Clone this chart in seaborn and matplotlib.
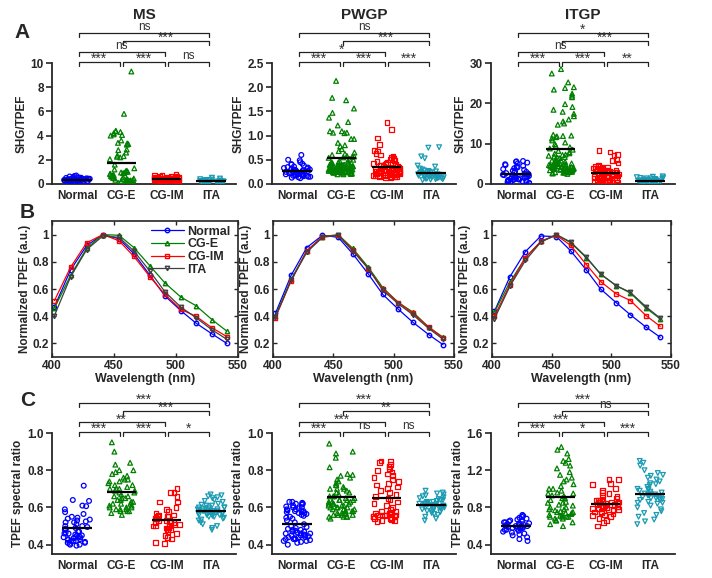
import numpy as np
import pandas as pd
import matplotlib
matplotlib.use('Agg')
import matplotlib.pyplot as plt
import seaborn as sns

np.random.seed(3)

groups = ['Normal', 'CG-E', 'CG-IM', 'ITA']
dot_colors = {'Normal': '#0000ff', 'CG-E': '#008000', 'CG-IM': '#ff0000', 'ITA': '#1b9bb3'}
line_colors = {'Normal': '#0000ff', 'CG-E': '#008000', 'CG-IM': '#ff0000', 'ITA': '#404040'}
dot_markers = {'Normal': 'o', 'CG-E': '^', 'CG-IM': 's', 'ITA': 'v'}

# ---- row A: SHG/TPEF ----
ms_shg_normal = [0.15, 0.18, 0.2, 0.22, 0.23, 0.25, 0.26, 0.27, 0.28, 0.29, 0.3, 0.3, 0.31, 0.32, 0.32,
                 0.33, 0.34, 0.34, 0.35, 0.35, 0.36, 0.36, 0.37, 0.38, 0.38, 0.39, 0.4, 0.4, 0.41, 0.42,
                 0.43, 0.44, 0.45, 0.46, 0.48, 0.5, 0.52, 0.55, 0.58, 0.62, 0.66, 0.7, 0.2, 0.25, 0.3]
ms_shg_cge = [9.3, 5.8, 4.4, 4.35, 4.3, 4.2, 4.1, 4.05, 4.0, 3.6, 3.4, 3.35, 3.3, 3.25, 2.85, 2.8, 2.6,
              2.35, 2.3, 2.25, 2.2, 2.05, 1.6, 1.3, 1.2, 1.1, 1.05, 1.0, 0.95, 0.9, 0.85, 0.8, 0.75, 0.7,
              0.65, 0.6, 0.55, 0.5, 0.45, 0.42, 0.4, 0.38, 0.35, 0.32, 0.3, 0.28, 0.25, 0.22, 0.2, 0.18,
              0.15, 0.12, 0.1, 0.9, 0.7, 0.5, 0.35, 0.25]
ms_shg_cgim = [0.1, 0.15, 0.18, 0.2, 0.22, 0.25, 0.27, 0.28, 0.3, 0.32, 0.33, 0.35, 0.36, 0.38, 0.39,
               0.4, 0.4, 0.41, 0.42, 0.43, 0.44, 0.45, 0.46, 0.47, 0.48, 0.5, 0.5, 0.52, 0.53, 0.55,
               0.56, 0.58, 0.6, 0.62, 0.65, 0.68, 0.72, 0.78, 0.3, 0.45, 0.35, 0.5]
ms_shg_ita = [0.05, 0.07, 0.08, 0.1, 0.11, 0.12, 0.13, 0.14, 0.15, 0.15, 0.16, 0.17, 0.18, 0.18, 0.19,
              0.2, 0.2, 0.21, 0.22, 0.22, 0.23, 0.24, 0.25, 0.26, 0.27, 0.28, 0.3, 0.32, 0.34, 0.37,
              0.4, 0.45, 0.52, 0.12, 0.17, 0.21]

pwgp_shg_normal = [0.6, 0.5, 0.49, 0.45, 0.42, 0.41, 0.4, 0.38, 0.36, 0.35, 0.34, 0.33, 0.32, 0.31, 0.3,
                   0.3, 0.29, 0.28, 0.27, 0.27, 0.26, 0.25, 0.25, 0.24, 0.24, 0.23, 0.22, 0.22, 0.21,
                   0.2, 0.2, 0.19, 0.19, 0.18, 0.18, 0.17, 0.17, 0.16, 0.15, 0.15, 0.14, 0.13, 0.12,
                   0.21, 0.23, 0.26, 0.28, 0.2]
pwgp_shg_cge = [2.13, 1.78, 1.73, 1.56, 1.47, 1.37, 1.28, 1.21, 1.09, 1.09, 1.06, 1.06, 1.05, 0.93, 0.93,
                0.85, 0.8, 0.78, 0.72, 0.68, 0.65, 0.62, 0.6, 0.58, 0.57, 0.56, 0.55, 0.54, 0.52, 0.5,
                0.48, 0.47, 0.45, 0.44, 0.42, 0.41, 0.4, 0.39, 0.38, 0.37, 0.36, 0.35, 0.34, 0.33, 0.32,
                0.31, 0.3, 0.29, 0.28, 0.27, 0.26, 0.25, 0.24, 0.23, 0.22, 0.21, 0.2, 0.3, 0.35, 0.4,
                0.45, 0.28, 0.33, 0.38, 0.25, 0.22, 0.24, 0.26, 0.28, 0.3, 0.32, 0.34, 0.36, 0.38, 0.4,
                0.21, 0.23, 0.25, 0.27, 0.29, 0.31, 0.33, 0.35, 0.37, 0.39, 0.2, 0.25, 0.3, 0.35, 0.4,
                0.22, 0.27, 0.32, 0.37, 0.42]
pwgp_shg_cgim = [1.27, 1.12, 0.95, 0.81, 0.69, 0.68, 0.63, 0.6, 0.58, 0.55, 0.52, 0.5, 0.48, 0.46, 0.45,
                 0.43, 0.42, 0.41, 0.4, 0.39, 0.38, 0.37, 0.36, 0.35, 0.34, 0.33, 0.32, 0.31, 0.3, 0.3,
                 0.29, 0.28, 0.27, 0.26, 0.25, 0.24, 0.23, 0.22, 0.21, 0.2, 0.19, 0.18, 0.17, 0.16, 0.15,
                 0.14, 0.13, 0.25, 0.28, 0.3, 0.32, 0.22, 0.2, 0.27, 0.15, 0.17, 0.19, 0.2, 0.21, 0.22,
                 0.18, 0.16, 0.24, 0.23]
pwgp_shg_ita = [0.76, 0.75, 0.57, 0.53, 0.38, 0.36, 0.32, 0.3, 0.28, 0.27, 0.26, 0.25, 0.24, 0.23, 0.22,
                0.21, 0.2, 0.2, 0.19, 0.18, 0.18, 0.17, 0.16, 0.16, 0.15, 0.15, 0.14, 0.13, 0.12, 0.12,
                0.11, 0.1, 0.09, 0.08, 0.17, 0.14, 0.19, 0.13, 0.11, 0.16, 0.12, 0.1, 0.14]

itgp_shg_normal = [5.7, 5.6, 5.5, 5.3, 5.1, 4.9, 4.7, 4.5, 4.3, 4.1, 3.9, 3.7, 3.5, 3.3, 3.1, 2.9, 2.7,
                   2.5, 2.4, 2.3, 2.2, 2.1, 2.0, 1.9, 1.8, 1.7, 1.6, 1.5, 1.4, 1.3, 1.2, 1.1, 1.0, 0.9,
                   0.8, 0.7, 0.6, 0.5, 0.4, 0.3, 0.2, 1.5, 1.0, 2.0, 0.8, 1.2, 0.6, 1.8, 2.5, 3.0]
itgp_shg_cge = [28.5, 27.4, 25.2, 24.0, 23.8, 23.4, 22.4, 21.9, 21.5, 19.8, 19.1, 18.4, 17.9, 17.4, 16.8,
                16.0, 15.5, 15.0, 14.7, 12.2, 12.0, 11.9, 11.8, 11.6, 11.3, 10.8, 10.3, 9.9, 9.5, 9.1,
                8.8, 8.5, 8.2, 7.9, 7.6, 7.3, 7.0, 6.7, 6.4, 6.1, 5.8, 5.5, 5.2, 4.9, 4.6, 4.3, 4.0, 3.7,
                3.4, 3.1, 2.8, 2.5, 6.0, 5.0, 4.5, 4.0, 3.5, 3.0, 7.5, 6.5, 5.5, 4.8, 3.8, 3.2, 2.9, 4.2,
                5.8, 6.8, 7.2, 3.6, 2.6, 2.8, 3.0, 3.2, 3.4, 3.6, 3.8, 4.0, 4.2, 4.4, 4.6, 4.8, 5.0, 2.7,
                3.1, 3.5, 3.9, 4.3, 4.7, 5.1, 2.9, 3.3, 3.7, 4.1, 4.5]
itgp_shg_cgim = [8.3, 7.9, 7.3, 7.0, 6.0, 5.8, 5.2, 4.6, 4.4, 4.3, 4.2, 4.1, 4.0, 3.9, 3.8, 3.6, 3.5,
                 3.4, 3.2, 3.0, 2.9, 2.8, 2.6, 2.5, 2.4, 2.2, 2.1, 2.0, 1.9, 1.8, 1.6, 1.5, 1.4, 1.2,
                 1.0, 0.8, 0.6, 0.4, 0.3, 2.0, 2.5, 3.0, 1.5, 1.0, 3.5, 4.0, 0.5, 2.8, 3.3, 1.7, 0.5,
                 0.7, 0.9, 1.1, 0.6, 0.8, 1.0, 0.4]
itgp_shg_ita = [1.9, 1.8, 1.7, 1.6, 1.5, 1.4, 1.3, 1.2, 1.1, 1.0, 0.95, 0.9, 0.85, 0.8, 0.75, 0.7, 0.65,
                0.6, 0.55, 0.5, 0.45, 0.4, 0.35, 0.3, 0.25, 0.2, 0.15, 0.1, 1.0, 0.8, 0.9, 1.2, 0.6, 0.7,
                1.1, 0.5, 1.4, 0.3]

# ---- row B: normalized TPEF spectra ----
wavelengths = [402, 415, 428, 441, 454, 466, 479, 491, 504, 516, 529, 541]
ms_spec_normal = [0.47, 0.74, 0.92, 1.0, 0.97, 0.86, 0.70, 0.55, 0.44, 0.35, 0.27, 0.20]
ms_spec_cge = [0.46, 0.70, 0.90, 1.0, 0.995, 0.905, 0.77, 0.645, 0.54, 0.478, 0.375, 0.29]
ms_spec_cgim = [0.515, 0.76, 0.94, 1.0, 0.955, 0.84, 0.69, 0.56, 0.45, 0.40, 0.315, 0.25]
ms_spec_ita = [0.405, 0.69, 0.89, 0.99, 0.98, 0.88, 0.73, 0.58, 0.466, 0.39, 0.30, 0.23]
pwgp_spec_normal = [0.42, 0.70, 0.905, 0.995, 0.98, 0.86, 0.71, 0.56, 0.45, 0.355, 0.265, 0.19]
pwgp_spec_cge = [0.40, 0.67, 0.88, 0.985, 1.0, 0.90, 0.76, 0.61, 0.50, 0.43, 0.32, 0.245]
pwgp_spec_cgim = [0.39, 0.66, 0.88, 0.985, 0.995, 0.89, 0.75, 0.60, 0.50, 0.42, 0.32, 0.24]
pwgp_spec_ita = [0.395, 0.665, 0.87, 0.98, 0.995, 0.88, 0.75, 0.59, 0.49, 0.41, 0.31, 0.23]
itgp_spec_normal = [0.435, 0.69, 0.875, 0.99, 0.985, 0.88, 0.74, 0.60, 0.50, 0.41, 0.32, 0.245]
itgp_spec_cge = [0.43, 0.65, 0.83, 0.95, 1.0, 0.94, 0.83, 0.71, 0.625, 0.57, 0.46, 0.38]
itgp_spec_cgim = [0.40, 0.63, 0.83, 0.95, 0.995, 0.92, 0.78, 0.655, 0.565, 0.515, 0.405, 0.325]
itgp_spec_ita = [0.38, 0.62, 0.81, 0.945, 1.0, 0.945, 0.835, 0.71, 0.625, 0.575, 0.47, 0.385]

# ---- row C: TPEF spectral ratio ----
ms_ratio_normal = [0.717, 0.64, 0.635, 0.61, 0.607, 0.59, 0.575, 0.565, 0.55, 0.545, 0.54, 0.535, 0.53,
                   0.525, 0.52, 0.51, 0.5, 0.495, 0.49, 0.485, 0.48, 0.47, 0.465, 0.46, 0.455, 0.45,
                   0.445, 0.44, 0.435, 0.43, 0.425, 0.42, 0.415, 0.41, 0.405, 0.4, 0.395, 0.44, 0.46,
                   0.42, 0.43, 0.45, 0.41, 0.47, 0.5, 0.52, 0.48, 0.44, 0.42, 0.4]
ms_ratio_cge = [0.95, 0.9, 0.84, 0.83, 0.8, 0.8, 0.79, 0.78, 0.77, 0.76, 0.75, 0.74, 0.74, 0.73, 0.72,
                0.71, 0.7, 0.7, 0.69, 0.68, 0.67, 0.66, 0.65, 0.64, 0.63, 0.62, 0.62, 0.61, 0.6, 0.6,
                0.59, 0.59, 0.58, 0.58, 0.57, 0.56, 0.61, 0.63, 0.66, 0.69, 0.72, 0.64, 0.6, 0.58, 0.7,
                0.75, 0.62, 0.65, 0.68, 0.59]
ms_ratio_cgim = [0.70, 0.68, 0.68, 0.66, 0.63, 0.63, 0.6, 0.59, 0.58, 0.57, 0.56, 0.55, 0.55, 0.54, 0.54,
                 0.53, 0.53, 0.52, 0.52, 0.51, 0.5, 0.5, 0.49, 0.48, 0.48, 0.47, 0.46, 0.45, 0.44, 0.43,
                 0.41, 0.405, 0.52, 0.54, 0.5, 0.56, 0.53, 0.49, 0.55, 0.51]
ms_ratio_ita = [0.67, 0.665, 0.66, 0.655, 0.65, 0.64, 0.635, 0.63, 0.62, 0.615, 0.61, 0.6, 0.6, 0.595,
                0.59, 0.585, 0.58, 0.58, 0.575, 0.57, 0.57, 0.565, 0.56, 0.56, 0.555, 0.55, 0.545, 0.54,
                0.535, 0.53, 0.52, 0.51, 0.5, 0.49, 0.48, 0.58, 0.59, 0.57, 0.6, 0.56, 0.58, 0.59, 0.57,
                0.6, 0.55, 0.58, 0.61, 0.56, 0.59, 0.57]

pwgp_ratio_normal = [0.63, 0.63, 0.625, 0.62, 0.62, 0.615, 0.61, 0.605, 0.6, 0.6, 0.595, 0.59, 0.585, 0.58,
                     0.58, 0.575, 0.57, 0.565, 0.56, 0.555, 0.55, 0.545, 0.54, 0.53, 0.52, 0.51, 0.5,
                     0.495, 0.49, 0.485, 0.48, 0.475, 0.47, 0.465, 0.46, 0.455, 0.45, 0.445, 0.44, 0.435,
                     0.43, 0.425, 0.42, 0.415, 0.41, 0.40, 0.46, 0.44, 0.47, 0.43, 0.45, 0.48, 0.42, 0.44,
                     0.46, 0.58, 0.57, 0.59, 0.45, 0.43]
pwgp_ratio_cge = [0.943, 0.9, 0.89, 0.867, 0.816, 0.78, 0.775, 0.77, 0.76, 0.75, 0.74, 0.73, 0.72, 0.71,
                  0.7, 0.7, 0.69, 0.68, 0.67, 0.66, 0.66, 0.65, 0.64, 0.64, 0.63, 0.63, 0.62, 0.62, 0.61,
                  0.61, 0.6, 0.6, 0.59, 0.59, 0.58, 0.58, 0.57, 0.57, 0.56, 0.56, 0.55, 0.55, 0.54, 0.6,
                  0.62, 0.64, 0.58, 0.66, 0.68, 0.61, 0.63, 0.59, 0.57, 0.65, 0.7, 0.72, 0.6, 0.62, 0.58,
                  0.64, 0.55, 0.56, 0.57, 0.56, 0.55]
pwgp_ratio_cgim = [0.85, 0.845, 0.84, 0.83, 0.82, 0.81, 0.8, 0.79, 0.78, 0.77, 0.76, 0.75, 0.74, 0.73,
                   0.72, 0.71, 0.7, 0.69, 0.68, 0.67, 0.66, 0.65, 0.64, 0.63, 0.62, 0.61, 0.6, 0.59, 0.58,
                   0.575, 0.57, 0.565, 0.56, 0.56, 0.555, 0.55, 0.55, 0.545, 0.54, 0.54, 0.535, 0.53,
                   0.53, 0.525, 0.56, 0.57, 0.55, 0.58, 0.54, 0.56]
pwgp_ratio_ita = [0.69, 0.68, 0.675, 0.67, 0.665, 0.66, 0.655, 0.65, 0.645, 0.64, 0.635, 0.63, 0.625,
                  0.62, 0.62, 0.615, 0.61, 0.61, 0.605, 0.6, 0.6, 0.595, 0.59, 0.585, 0.58, 0.575, 0.57,
                  0.565, 0.56, 0.55, 0.54, 0.53, 0.61, 0.62, 0.6, 0.63, 0.61, 0.59, 0.62, 0.6, 0.64, 0.58,
                  0.61, 0.62, 0.6]

itgp_ratio_normal = [0.72, 0.71, 0.7, 0.69, 0.68, 0.67, 0.66, 0.65, 0.64, 0.63, 0.62, 0.61, 0.6, 0.6,
                     0.59, 0.58, 0.57, 0.56, 0.55, 0.54, 0.53, 0.52, 0.51, 0.5, 0.48, 0.46, 0.44, 0.6,
                     0.62, 0.58, 0.64, 0.56, 0.61, 0.59, 0.63, 0.57, 0.65, 0.6, 0.62, 0.58]
itgp_ratio_cge = [1.45, 1.42, 1.38, 1.32, 1.3, 1.28, 1.25, 1.22, 1.18, 1.15, 1.12, 1.1, 1.08, 1.05, 1.03,
                  1.0, 0.98, 0.96, 0.95, 0.93, 0.92, 0.9, 0.88, 0.86, 0.85, 0.83, 0.82, 0.8, 0.78, 0.77,
                  0.76, 0.75, 0.74, 0.73, 0.72, 0.71, 0.7, 0.68, 0.66, 0.64, 0.62, 0.6, 0.8, 0.9, 1.0,
                  0.75, 0.85, 0.95, 0.7, 0.78, 0.66, 0.7, 0.72, 0.68, 0.74, 0.7]
itgp_ratio_cgim = [1.1, 1.1, 1.06, 1.05, 1.0, 0.98, 0.96, 0.95, 0.93, 0.92, 0.9, 0.89, 0.88, 0.87, 0.86,
                   0.85, 0.84, 0.83, 0.82, 0.81, 0.8, 0.79, 0.78, 0.77, 0.76, 0.75, 0.74, 0.73, 0.72,
                   0.71, 0.7, 0.68, 0.66, 0.64, 0.6, 0.82, 0.85, 0.8, 0.88, 0.78, 0.83, 0.86, 0.79, 0.84,
                   0.81]
itgp_ratio_ita = [1.3, 1.28, 1.25, 1.2, 1.17, 1.15, 1.14, 1.12, 1.1, 1.08, 1.06, 1.04, 1.02, 1.0, 0.99,
                  0.98, 0.96, 0.95, 0.94, 0.93, 0.92, 0.91, 0.9, 0.89, 0.88, 0.86, 0.85, 0.84, 0.82, 0.8,
                  0.78, 0.76, 0.74, 0.72, 0.7, 0.67, 0.65, 0.62, 0.95, 0.9, 1.0, 0.88, 0.93, 0.97, 0.85,
                  0.92, 1.05, 0.9]

# significance brackets: (group i, group j, level, label)
ms_shg_sig = [(0, 1, 0, '***'), (1, 2, 0, '***'), (2, 3, 0, 'ns'), (0, 2, 1, 'ns'), (1, 3, 2, '***'), (0, 3, 3, 'ns')]
pwgp_shg_sig = [(0, 1, 0, '***'), (1, 2, 0, '***'), (2, 3, 0, '***'), (0, 2, 1, '*'), (1, 3, 2, '***'), (0, 3, 3, 'ns')]
itgp_shg_sig = [(0, 1, 0, '***'), (1, 2, 0, '***'), (2, 3, 0, '**'), (0, 2, 1, 'ns'), (1, 3, 2, '***'), (0, 3, 3, '*')]
ms_ratio_sig = [(0, 1, 0, '***'), (1, 2, 0, '***'), (2, 3, 0, '*'), (0, 2, 1, '**'), (1, 3, 2, '***'), (0, 3, 3, '***')]
pwgp_ratio_sig = [(0, 1, 0, '***'), (1, 2, 0, 'ns'), (2, 3, 0, 'ns'), (0, 2, 1, '***'), (1, 3, 2, '**'), (0, 3, 3, '***')]
itgp_ratio_sig = [(0, 1, 0, '***'), (1, 2, 0, '*'), (2, 3, 0, '***'), (0, 2, 1, '***'), (1, 3, 2, 'ns'), (0, 3, 3, '***')]
levels = [1.012, 1.09, 1.185, 1.25]

sns.set_style('ticks')
plt.rcParams['font.family'] = ['Liberation Sans', 'DejaVu Sans']
plt.rcParams['font.weight'] = 'bold'
plt.rcParams['axes.labelweight'] = 'bold'

fig = plt.figure(figsize=(7.12, 5.78), dpi=100)


def rect(left, top, w, h):
    return [left / 712, 1 - (top + h) / 578, w / 712, h / 578]


def bracket(ax, i, j, level, txt):
    tr = ax.get_xaxis_transform()
    x1, x2 = i + 0.035, j - 0.035
    ax.plot([x1, x1, x2, x2], [level - 0.035, level, level, level - 0.035], transform=tr,
            color='#222222', lw=0.9, clip_on=False)
    if '*' in txt:
        dy, fs = -1.0, 10
    else:
        dy, fs = 2.0, 8.5
    ax.annotate(txt, xy=((x1 + x2) / 2, level), xycoords=tr, xytext=(0, dy), textcoords='offset points',
                ha='center', va='baseline', fontsize=fs, fontweight='normal', color='#333333')


def dot_panel(ax, data, ylim, yticks, sig, ylabel):
    df = pd.concat([pd.DataFrame({'group': g, 'value': data[g]}) for g in groups], ignore_index=True)
    for g in groups:
        n = len(ax.collections)
        sns.stripplot(data=df[df['group'] == g], x='group', y='value', order=groups, ax=ax,
                      marker=dot_markers[g], size=3.4, jitter=0.3, color=dot_colors[g],
                      edgecolor=dot_colors[g], linewidth=0.9)
        for c in ax.collections[n:]:
            c.set_facecolor('none')
            c.set_edgecolor(dot_colors[g])
    means = df.groupby('group')['value'].mean()
    for i, g in enumerate(groups):
        ax.hlines(means[g], i - 0.33, i + 0.33, color='k', lw=1.6, zorder=5)
    ax.set_xlim(-0.56, 3.56)
    ax.set_ylim(*ylim)
    ax.set_yticks(yticks)
    ax.set_xlabel('')
    ax.set_ylabel(ylabel, fontsize=8.5, fontweight='bold', labelpad=2)
    sns.despine(ax=ax)
    for s in ['left', 'bottom']:
        ax.spines[s].set_linewidth(1.3)
    ax.tick_params(axis='y', length=4, width=1.2, labelsize=8.5, pad=2)
    ax.tick_params(axis='x', length=0, labelsize=8.5, pad=4)
    for lab in ax.get_xticklabels() + ax.get_yticklabels():
        lab.set_fontweight('bold')
    for i, j, lev, txt in sig:
        bracket(ax, i, j, levels[lev], txt)


def spectrum_panel(ax, spectra, show_legend):
    df = pd.concat([pd.DataFrame({'Wavelength': wavelengths, 'TPEF': spectra[g], 'group': g}) for g in groups],
                   ignore_index=True)
    sns.lineplot(data=df, x='Wavelength', y='TPEF', hue='group', style='group', hue_order=groups,
                 style_order=groups, palette=line_colors, markers=dot_markers, dashes=False,
                 lw=0.9, markersize=3.2, ax=ax, legend=False)
    for line, g in zip(ax.get_lines(), groups):
        line.set_markerfacecolor('none')
        line.set_markeredgecolor(line_colors[g])
        line.set_markeredgewidth(1.0)
    ax.set_xlim(400, 550)
    ax.set_ylim(0.1, 1.1)
    ax.set_xticks([400, 450, 500, 550])
    ax.set_yticks([0.2, 0.4, 0.6, 0.8, 1.0])
    ax.set_yticklabels(['0.2', '0.4', '0.6', '0.8', '1'])
    ax.set_xlabel('Wavelength (nm)', fontsize=9, fontweight='bold', labelpad=1)
    ax.set_ylabel('Normalized TPEF (a.u.)', fontsize=8.5, fontweight='bold', labelpad=1)
    ax.tick_params(direction='in', top=True, right=True, length=3, width=1, labelsize=8.5, pad=2)
    for s in ax.spines.values():
        s.set_linewidth(1.2)
    for lab in ax.get_xticklabels() + ax.get_yticklabels():
        lab.set_fontweight('bold')
    if show_legend:
        ax.legend(ax.get_lines()[:4], groups, loc='upper right', bbox_to_anchor=(1.0, 1.02),
                  frameon=False, handlelength=2.6, handletextpad=0.3, labelspacing=0.05,
                  borderaxespad=0.2, prop={'weight': 'bold', 'size': 9})


lefts = [52, 272, 491]
spec_lefts = [52, 273, 492]
spec_widths = [186, 181, 179]
titles = ['MS', 'PWGP', 'ITGP']

shg_data = [
    {'Normal': ms_shg_normal, 'CG-E': ms_shg_cge, 'CG-IM': ms_shg_cgim, 'ITA': ms_shg_ita},
    {'Normal': pwgp_shg_normal, 'CG-E': pwgp_shg_cge, 'CG-IM': pwgp_shg_cgim, 'ITA': pwgp_shg_ita},
    {'Normal': itgp_shg_normal, 'CG-E': itgp_shg_cge, 'CG-IM': itgp_shg_cgim, 'ITA': itgp_shg_ita},
]
spec_data = [
    {'Normal': ms_spec_normal, 'CG-E': ms_spec_cge, 'CG-IM': ms_spec_cgim, 'ITA': ms_spec_ita},
    {'Normal': pwgp_spec_normal, 'CG-E': pwgp_spec_cge, 'CG-IM': pwgp_spec_cgim, 'ITA': pwgp_spec_ita},
    {'Normal': itgp_spec_normal, 'CG-E': itgp_spec_cge, 'CG-IM': itgp_spec_cgim, 'ITA': itgp_spec_ita},
]
ratio_data = [
    {'Normal': ms_ratio_normal, 'CG-E': ms_ratio_cge, 'CG-IM': ms_ratio_cgim, 'ITA': ms_ratio_ita},
    {'Normal': pwgp_ratio_normal, 'CG-E': pwgp_ratio_cge, 'CG-IM': pwgp_ratio_cgim, 'ITA': pwgp_ratio_ita},
    {'Normal': itgp_ratio_normal, 'CG-E': itgp_ratio_cge, 'CG-IM': itgp_ratio_cgim, 'ITA': itgp_ratio_ita},
]
shg_lims = [(0, 10), (0, 2.5), (0, 30)]
shg_ticks = [[0, 2, 4, 6, 8, 10], [0, 0.5, 1.0, 1.5, 2.0, 2.5], [0, 10, 20, 30]]
shg_sigs = [ms_shg_sig, pwgp_shg_sig, itgp_shg_sig]
ratio_lims = [(0.35, 1.0), (0.35, 1.0), (0.3, 1.6)]
ratio_ticks = [[0.4, 0.6, 0.8, 1.0], [0.4, 0.6, 0.8, 1.0], [0.4, 0.8, 1.2, 1.6]]
ratio_sigs = [ms_ratio_sig, pwgp_ratio_sig, itgp_ratio_sig]

for k in range(3):
    axa = fig.add_axes(rect(lefts[k], 63, 184, 121))
    dot_panel(axa, shg_data[k], shg_lims[k], shg_ticks[k], shg_sigs[k], 'SHG/TPEF')
    axa.text(0.5, 1.40, titles[k], transform=axa.transAxes, ha='center', va='center',
             fontsize=11, fontweight='bold')

    axb = fig.add_axes(rect(spec_lefts[k], 221, spec_widths[k], 136))
    spectrum_panel(axb, spec_data[k], k == 0)

    axc = fig.add_axes(rect(lefts[k], 433, 184, 121))
    dot_panel(axc, ratio_data[k], ratio_lims[k], ratio_ticks[k], ratio_sigs[k], 'TPEF spectral ratio')

for letter, x, y in [('A', 22, 33), ('B', 27, 212), ('C', 28, 400)]:
    fig.text(x / 712, 1 - y / 578, letter, ha='center', va='center', fontsize=15, fontweight='bold')

fig.savefig('out.png', dpi=100)
